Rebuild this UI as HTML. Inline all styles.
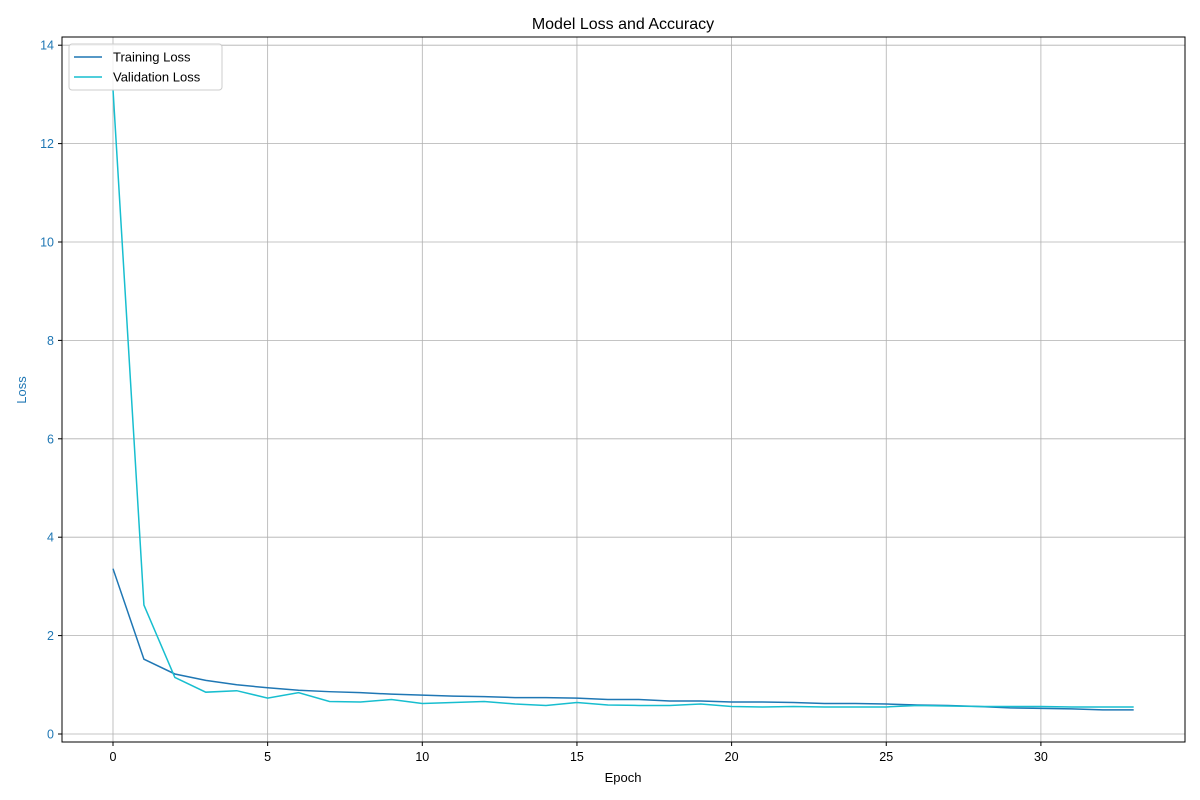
<!DOCTYPE html>
<html><head><meta charset="utf-8"><style>
body{margin:0;background:#fff}
svg{display:block;font-family:"Liberation Sans",sans-serif}
</style></head><body>
<svg id="chart" width="1200" height="800">
<text x="623" y="29" font-size="16" text-anchor="middle">Model Loss and Accuracy</text>
<text x="623" y="782" font-size="13" text-anchor="middle">Epoch</text>
<text x="26" y="390" font-size="13" fill="#1f77b4" text-anchor="middle" transform="rotate(-90 26 390)">Loss</text>
<g id="grid"></g>
<g id="series"></g>
<rect x="62" y="37" width="1123" height="705" fill="none" stroke="#000" stroke-width="1"/>
<g>
<rect x="69" y="44" width="153" height="46" fill="#fff" fill-opacity="0.8" stroke="#ccc" rx="3"/>
<line x1="74" y1="57" x2="102" y2="57" stroke="#1f77b4" stroke-width="1.5"/>
<text x="113" y="61.5" font-size="13">Training Loss</text>
<line x1="74" y1="77" x2="102" y2="77" stroke="#17becf" stroke-width="1.5"/>
<text x="113" y="81.5" font-size="13">Validation Loss</text>
</g>
</svg>
<script>
const epochs=[0,1,2,3,4,5,6,7,8,9,10,11,12,13,14,15,16,17,18,19,20,21,22,23,24,25,26,27,28,29,30,31,32,33];
const trainingLoss=[3.36,1.52,1.22,1.09,1.0,0.94,0.89,0.86,0.84,0.81,0.79,0.77,0.76,0.74,0.74,0.73,0.70,0.70,0.67,0.67,0.65,0.65,0.64,0.62,0.62,0.61,0.59,0.58,0.56,0.53,0.52,0.51,0.49,0.49];
const validationLoss=[13.1,2.62,1.15,0.85,0.88,0.73,0.84,0.66,0.65,0.70,0.62,0.64,0.66,0.61,0.58,0.64,0.59,0.58,0.58,0.61,0.56,0.55,0.56,0.55,0.55,0.55,0.58,0.57,0.56,0.56,0.56,0.55,0.55,0.55];
const xTicks=[0,5,10,15,20,25,30];
const yTicks=[0,2,4,6,8,10,12,14];
const NS="http://www.w3.org/2000/svg";
const xs=v=>113+v*30.93;
const ys=v=>734-v*49.2;
const grid=document.getElementById('grid');
function mk(tag,attrs,parent){const e=document.createElementNS(NS,tag);for(const k in attrs)e.setAttribute(k,attrs[k]);parent.appendChild(e);return e;}
xTicks.forEach(t=>{
 const g=mk('line',{x1:xs(t),x2:xs(t),y1:37,y2:742,stroke:'#b0b0b0','stroke-width':0.8},grid);
 
 
 const tk=mk('line',{x1:xs(t),x2:xs(t),y1:742,y2:746,stroke:'#000'},grid);
 
 
 const l=mk('text',{x:xs(t),y:761,'font-size':12.5,'text-anchor':'middle'},grid);
 l.textContent=t;
 
 
});
yTicks.forEach(t=>{
 const g=mk('line',{x1:62,x2:1185,y1:ys(t),y2:ys(t),stroke:'#b0b0b0','stroke-width':0.8},grid);
 
 
 const tk=mk('line',{x1:58,x2:62,y1:ys(t),y2:ys(t),stroke:'#000'},grid);
 
 
 const l=mk('text',{x:54,y:ys(t)+4.5,'font-size':12.5,'text-anchor':'end',fill:'#1f77b4'},grid);
 l.textContent=t;
 
 
});
const series=document.getElementById('series');
function line(vals,color,name){
 const p=mk('polyline',{points:vals.map((v,i)=>xs(epochs[i])+','+ys(v)).join(' '),fill:'none',stroke:color,'stroke-width':1.5},series);
 
 
}
line(trainingLoss,'#1f77b4','training-loss-line');
line(validationLoss,'#17becf','validation-loss-line');
</script>
</body></html>
